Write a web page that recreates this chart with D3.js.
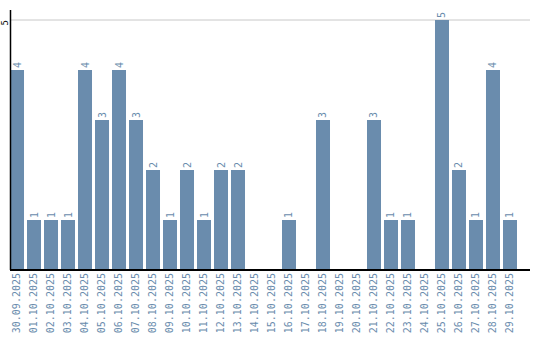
<!DOCTYPE html>
<html>
<head>
<meta charset="utf-8">
<script src="https://cdn.jsdelivr.net/npm/d3@7"></script>
<style>
  body { margin: 0; background: #fff; }
  text { font-family: "DejaVu Sans Mono", monospace; }
</style>
</head>
<body>
<svg id="vis" width="540" height="340"></svg>
<script>
const days = ['30.09.2025', '01.10.2025', '02.10.2025', '03.10.2025', '04.10.2025',
  '05.10.2025', '06.10.2025', '07.10.2025', '08.10.2025', '09.10.2025',
  '10.10.2025', '11.10.2025', '12.10.2025', '13.10.2025', '14.10.2025',
  '15.10.2025', '16.10.2025', '17.10.2025', '18.10.2025', '19.10.2025',
  '20.10.2025', '21.10.2025', '22.10.2025', '23.10.2025', '24.10.2025',
  '25.10.2025', '26.10.2025', '27.10.2025', '28.10.2025', '29.10.2025'];
const counts = [4, 1, 1, 1, 4, 3, 4, 3, 2, 1, 2, 1, 2, 2, 0, 0, 1, 0, 3, 0, 0, 3, 1, 1, 0, 5, 2, 1, 4, 1];
const yTicks = [5];

const svg = d3.select('#vis');
const barColor = '#6a8cad';
const data = days.map((d, i) => ({ day: d, value: counts[i] }));

const x = d3.scaleBand()
  .domain(days)
  .range([10, 517])
  .paddingInner(0.176)
  .paddingOuter(0);

const y = d3.scaleLinear()
  .domain([0, 5])
  .range([270, 20]);

// gridline
svg.selectAll('line.grid')
  .data(yTicks)
  .enter()
  .append('line')
  .attr('class', 'grid')
  .attr('x1', 10)
  .attr('x2', 530)
  .attr('y1', d => y(d))
  .attr('y2', d => y(d))
  .attr('stroke', '#c8c8c8')
  .attr('stroke-width', 1);

// bars
svg.selectAll('rect.bar')
  .data(data.filter(d => d.value > 0))
  .enter()
  .append('rect')
  .attr('class', 'bar')
  .attr('x', d => x(d.day))
  .attr('y', d => y(d.value))
  .attr('width', x.bandwidth())
  .attr('height', d => y(0) - y(d.value))
  .attr('fill', barColor);

// value labels
svg.selectAll('text.val')
  .data(data.filter(d => d.value > 0))
  .enter()
  .append('text')
  .attr('class', 'val')
  .attr('transform', d => `translate(${x(d.day) + x.bandwidth() / 2 + 3.5},${y(d.value) - 2}) rotate(-90)`)
  .attr('text-anchor', 'start')
  .style('font-size', '10px')
  .attr('fill', barColor)
  .text(d => d.value);

// x axis
const xAxis = svg.append('g')
  .attr('transform', 'translate(0,270)')
  .call(d3.axisBottom(x).tickSize(0).tickPadding(0));
xAxis.select('.domain').remove();
xAxis.selectAll('text')
  .attr('transform', 'rotate(-90)')
  .attr('x', -3)
  .attr('y', 0)
  .attr('dy', '0.32em')
  .attr('dx', 0)
  .attr('text-anchor', 'end')
  .style('font-size', '10px')
  .style('font-family', '"DejaVu Sans Mono", monospace')
  .attr('fill', barColor);

svg.append('line')
  .attr('x1', 10).attr('x2', 530)
  .attr('y1', 270).attr('y2', 270)
  .attr('stroke', '#000')
  .attr('stroke-width', 2);

// y axis
svg.append('line')
  .attr('x1', 10.5).attr('x2', 10.5)
  .attr('y1', 10).attr('y2', 270)
  .attr('stroke', '#000')
  .attr('stroke-width', 1.5);

svg.selectAll('text.ytick')
  .data(yTicks)
  .enter()
  .append('text')
  .attr('class', 'ytick')
  .attr('transform', d => `translate(7.5,${y(d)}) rotate(-90)`)
  .attr('text-anchor', 'end')
  .style('font-size', '9px')
  .attr('fill', '#000')
  .text(d => d);
</script>
</body>
</html>
